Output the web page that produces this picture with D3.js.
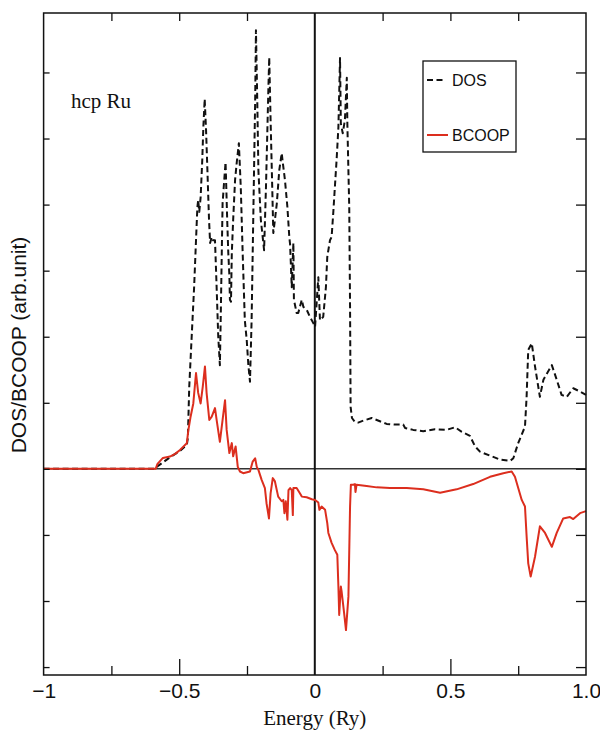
<!DOCTYPE html>
<html>
<head>
<meta charset="utf-8">
<script src="https://cdn.jsdelivr.net/npm/d3@7"></script>
<style>
  html, body { margin: 0; padding: 0; background: #fff; }
  svg { display: block; }
</style>
</head>
<body>
<svg id="chart" width="600" height="731"></svg>
<script>
// ---------- DATA ----------
const dosEnergy = [-1, -0.589, -0.578, -0.537, -0.497, -0.472, -0.468, -0.463, -0.454, -0.445, -0.438, -0.433, -0.430, -0.426, -0.421, -0.415, -0.411, -0.406, -0.401, -0.396, -0.390, -0.386, -0.380, -0.375, -0.368, -0.362, -0.356, -0.350, -0.347, -0.343, -0.340, -0.334, -0.329, -0.323, -0.319, -0.315, -0.313, -0.309, -0.306, -0.301, -0.294, -0.288, -0.280, -0.273, -0.266, -0.258, -0.251, -0.245, -0.239, -0.233, -0.227, -0.220, -0.217, -0.212, -0.208, -0.199, -0.187, -0.180, -0.171, -0.168, -0.163, -0.157, -0.153, -0.147, -0.140, -0.131, -0.122, -0.117, -0.110, -0.101, -0.094, -0.091, -0.085, -0.079, -0.077, -0.067, -0.061, -0.048, -0.042, -0.030, -0.018, -0.006, 0.001, 0.013, 0.019, 0.031, 0.041, 0.046, 0.056, 0.062, 0.068, 0.081, 0.087, 0.093, 0.096, 0.103, 0.111, 0.118, 0.120, 0.127, 0.130, 0.132, 0.137, 0.148, 0.160, 0.179, 0.210, 0.240, 0.265, 0.296, 0.326, 0.333, 0.363, 0.400, 0.443, 0.486, 0.517, 0.542, 0.572, 0.591, 0.609, 0.646, 0.683, 0.720, 0.732, 0.750, 0.775, 0.781, 0.787, 0.800, 0.812, 0.830, 0.843, 0.874, 0.892, 0.910, 0.929, 0.953, 0.978, 1.0];
const dosValues = [0, 0, 0.045, 0.166, 0.272, 0.363, 0.469, 1.24, 2.00, 2.75, 3.46, 3.96, 4.07, 3.89, 4.11, 4.67, 5.17, 5.60, 5.13, 4.52, 3.77, 3.42, 3.51, 3.46, 3.46, 2.75, 2.00, 1.57, 2.25, 3.27, 4.02, 4.37, 4.64, 3.77, 3.27, 2.93, 2.56, 2.53, 3.27, 3.77, 4.37, 4.63, 4.93, 4.27, 3.27, 2.25, 1.95, 1.57, 1.32, 2.25, 3.77, 5.54, 6.64, 5.54, 4.52, 3.77, 3.31, 4.27, 5.78, 6.23, 5.28, 4.27, 3.57, 3.77, 4.02, 4.52, 4.78, 4.60, 4.37, 3.96, 3.51, 3.39, 2.75, 3.42, 2.56, 2.36, 2.36, 2.56, 2.45, 2.41, 2.30, 2.21, 2.15, 2.90, 2.25, 2.30, 2.75, 3.21, 3.46, 3.51, 3.87, 4.72, 5.17, 6.22, 5.23, 5.08, 5.28, 5.92, 5.23, 3.96, 2.45, 0.94, 0.77, 0.71, 0.70, 0.73, 0.77, 0.72, 0.68, 0.67, 0.67, 0.62, 0.59, 0.57, 0.60, 0.59, 0.63, 0.56, 0.50, 0.34, 0.26, 0.20, 0.14, 0.12, 0.16, 0.39, 0.64, 1.09, 1.80, 1.90, 1.55, 1.09, 1.35, 1.57, 1.35, 1.12, 1.09, 1.22, 1.17, 1.12];

const bcoopEnergy = [-1, -0.587, -0.580, -0.560, -0.534, -0.515, -0.497, -0.472, -0.466, -0.458, -0.448, -0.438, -0.430, -0.421, -0.413, -0.405, -0.399, -0.389, -0.380, -0.368, -0.362, -0.350, -0.340, -0.331, -0.325, -0.315, -0.306, -0.301, -0.292, -0.284, -0.276, -0.264, -0.239, -0.229, -0.220, -0.214, -0.208, -0.196, -0.184, -0.178, -0.169, -0.163, -0.155, -0.147, -0.135, -0.122, -0.116, -0.112, -0.107, -0.101, -0.097, -0.091, -0.085, -0.081, -0.079, -0.067, -0.055, -0.048, -0.030, -0.011, 0.001, 0.013, 0.017, 0.025, 0.038, 0.046, 0.050, 0.062, 0.074, 0.083, 0.087, 0.090, 0.096, 0.099, 0.108, 0.115, 0.124, 0.130, 0.133, 0.142, 0.148, 0.150, 0.154, 0.191, 0.228, 0.277, 0.339, 0.400, 0.462, 0.523, 0.584, 0.646, 0.695, 0.726, 0.738, 0.763, 0.775, 0.781, 0.787, 0.796, 0.812, 0.830, 0.849, 0.874, 0.892, 0.916, 0.941, 0.953, 0.978, 1.0];
const bcoopValues = [0, 0, 0.076, 0.166, 0.186, 0.227, 0.287, 0.389, 0.59, 0.79, 0.99, 1.45, 1.15, 0.99, 1.25, 1.55, 1.15, 0.74, 0.79, 0.92, 0.74, 0.41, 0.74, 1.04, 0.59, 0.24, 0.39, 0.19, 0.34, 0.03, -0.04, -0.065, -0.04, 0.11, 0.16, 0.03, -0.015, -0.166, -0.29, -0.52, -0.75, -0.37, -0.14, -0.19, -0.42, -0.49, -0.47, -0.67, -0.49, -0.77, -0.32, -0.29, -0.32, -0.70, -0.29, -0.29, -0.37, -0.42, -0.43, -0.46, -0.47, -0.51, -0.62, -0.57, -0.62, -0.82, -0.97, -1.12, -1.23, -1.30, -1.78, -2.21, -1.78, -1.86, -2.18, -2.44, -1.93, -0.57, -0.24, -0.24, -0.23, -0.35, -0.24, -0.26, -0.28, -0.29, -0.29, -0.31, -0.36, -0.31, -0.23, -0.12, -0.065, -0.04, -0.12, -0.47, -0.57, -1.02, -1.43, -1.63, -1.33, -0.87, -0.97, -1.18, -0.97, -0.75, -0.73, -0.76, -0.67, -0.64];

const xMajorTicks = [-0.5, 0.5];
const xMinorTicks = [-0.75, -0.25, 0.25, 0.75];
const xTopTicks = [-0.75, -0.5, -0.25, 0.25, 0.5, 0.75];
const xLabelTicks = [-1, -0.5, 0, 0.5, 1];
const xTickLabels = ["\u22121", "\u22120.5", "0", "0.5", "1.0"];
const yTicks = [-3, -2, -1, 0, 1, 2, 3, 4, 5, 6];
const seriesNames = ["DOS", "BCOOP"];

// ---------- LAYOUT ----------
const svg = d3.select("#chart");
const L = 43.6, R = 586, T = 13, B = 675;
const x = d3.scaleLinear().domain([-1, 1]).range([L, R]);
const y = d3.scaleLinear().domain([-3.12, 6.9]).range([B, T]);
const red = "#dc2e1e";

// zero lines
svg.append("line").attr("x1", L).attr("x2", R).attr("y1", y(0)).attr("y2", y(0))
  .attr("stroke", "#333").attr("stroke-width", 1.5);
svg.append("line").attr("x1", x(0)).attr("x2", x(0)).attr("y1", T).attr("y2", B)
  .attr("stroke", "#111").attr("stroke-width", 2);

// curves
const dosData = dosEnergy.map((e, i) => [e, dosValues[i]]);
const bcoopData = bcoopEnergy.map((e, i) => [e, bcoopValues[i]]);
const line = d3.line().x(d => x(d[0])).y(d => y(d[1]));

svg.append("path").datum(dosData).attr("d", line)
  .attr("fill", "none").attr("stroke", "#111").attr("stroke-width", 2)
  .attr("stroke-dasharray", "6,3.5").attr("stroke-linejoin", "round");
svg.append("path").datum(bcoopData).attr("d", line)
  .attr("fill", "none").attr("stroke", red).attr("stroke-width", 2)
  .attr("stroke-linejoin", "round");

// axes / ticks
function styleAxis(g) {
  g.select(".domain").remove();
  g.selectAll(".tick line").attr("stroke", "#111").attr("stroke-width", 1.3);
}
svg.append("g").attr("transform", `translate(0,${B})`)
  .call(d3.axisBottom(x).tickValues(xMajorTicks).tickSize(-16).tickFormat(""))
  .call(styleAxis);
svg.append("g").attr("transform", `translate(0,${B})`)
  .call(d3.axisBottom(x).tickValues(xMinorTicks).tickSize(-9).tickFormat(""))
  .call(styleAxis);
svg.append("g").attr("transform", `translate(0,${T})`)
  .call(d3.axisTop(x).tickValues(xTopTicks).tickSize(-8).tickFormat(""))
  .call(styleAxis);
svg.append("g").attr("transform", `translate(${L},0)`)
  .call(d3.axisLeft(y).tickValues(yTicks).tickSize(-6).tickFormat(""))
  .call(styleAxis);
svg.append("g").attr("transform", `translate(${R},0)`)
  .call(d3.axisRight(y).tickValues(yTicks).tickSize(-10).tickFormat(""))
  .call(styleAxis);

const lab = svg.append("g").attr("transform", `translate(0,${B})`)
  .call(d3.axisBottom(x).tickValues(xLabelTicks).tickSize(0).tickPadding(8)
    .tickFormat((d, i) => xTickLabels[i]));
lab.select(".domain").remove();
lab.selectAll("text").attr("font-family", "Liberation Sans, Arial, sans-serif")
  .attr("font-size", 21).attr("fill", "#111");

// frame
svg.append("rect").attr("x", L).attr("y", T).attr("width", R - L).attr("height", B - T)
  .attr("fill", "none").attr("stroke", "#111").attr("stroke-width", 1.5);

// axis titles
svg.append("text").attr("x", (L + R) / 2).attr("y", 725).attr("text-anchor", "middle")
  .attr("font-family", "Liberation Serif, Times New Roman, serif").attr("font-size", 21)
  .attr("fill", "#111").text("Energy (Ry)");
svg.append("text").attr("transform", "translate(26,345) rotate(-90)").attr("text-anchor", "middle")
  .attr("font-family", "Liberation Sans, Arial, sans-serif").attr("font-size", 21)
  .attr("fill", "#111").text("DOS/BCOOP (arb.unit)");

// annotation
svg.append("text").attr("x", 71).attr("y", 108)
  .attr("font-family", "Liberation Serif, Times New Roman, serif").attr("font-size", 21)
  .attr("fill", "#111").text("hcp Ru");

// legend
const lg = svg.append("g");
lg.append("rect").attr("x", 423).attr("y", 61).attr("width", 93).attr("height", 91)
  .attr("fill", "#fff").attr("stroke", "#111").attr("stroke-width", 1.3);
lg.append("line").attr("x1", 427).attr("x2", 446).attr("y1", 80).attr("y2", 80)
  .attr("stroke", "#111").attr("stroke-width", 2).attr("stroke-dasharray", "6,3.5");
lg.append("line").attr("x1", 427).attr("x2", 448).attr("y1", 135).attr("y2", 135)
  .attr("stroke", red).attr("stroke-width", 2);
lg.append("text").attr("x", 452).attr("y", 86).attr("font-family", "Liberation Sans, Arial, sans-serif")
  .attr("font-size", 16).attr("fill", "#111").text(seriesNames[0]);
lg.append("text").attr("x", 452).attr("y", 141).attr("font-family", "Liberation Sans, Arial, sans-serif")
  .attr("font-size", 16).attr("fill", "#111").text(seriesNames[1]);
</script>
</body>
</html>
